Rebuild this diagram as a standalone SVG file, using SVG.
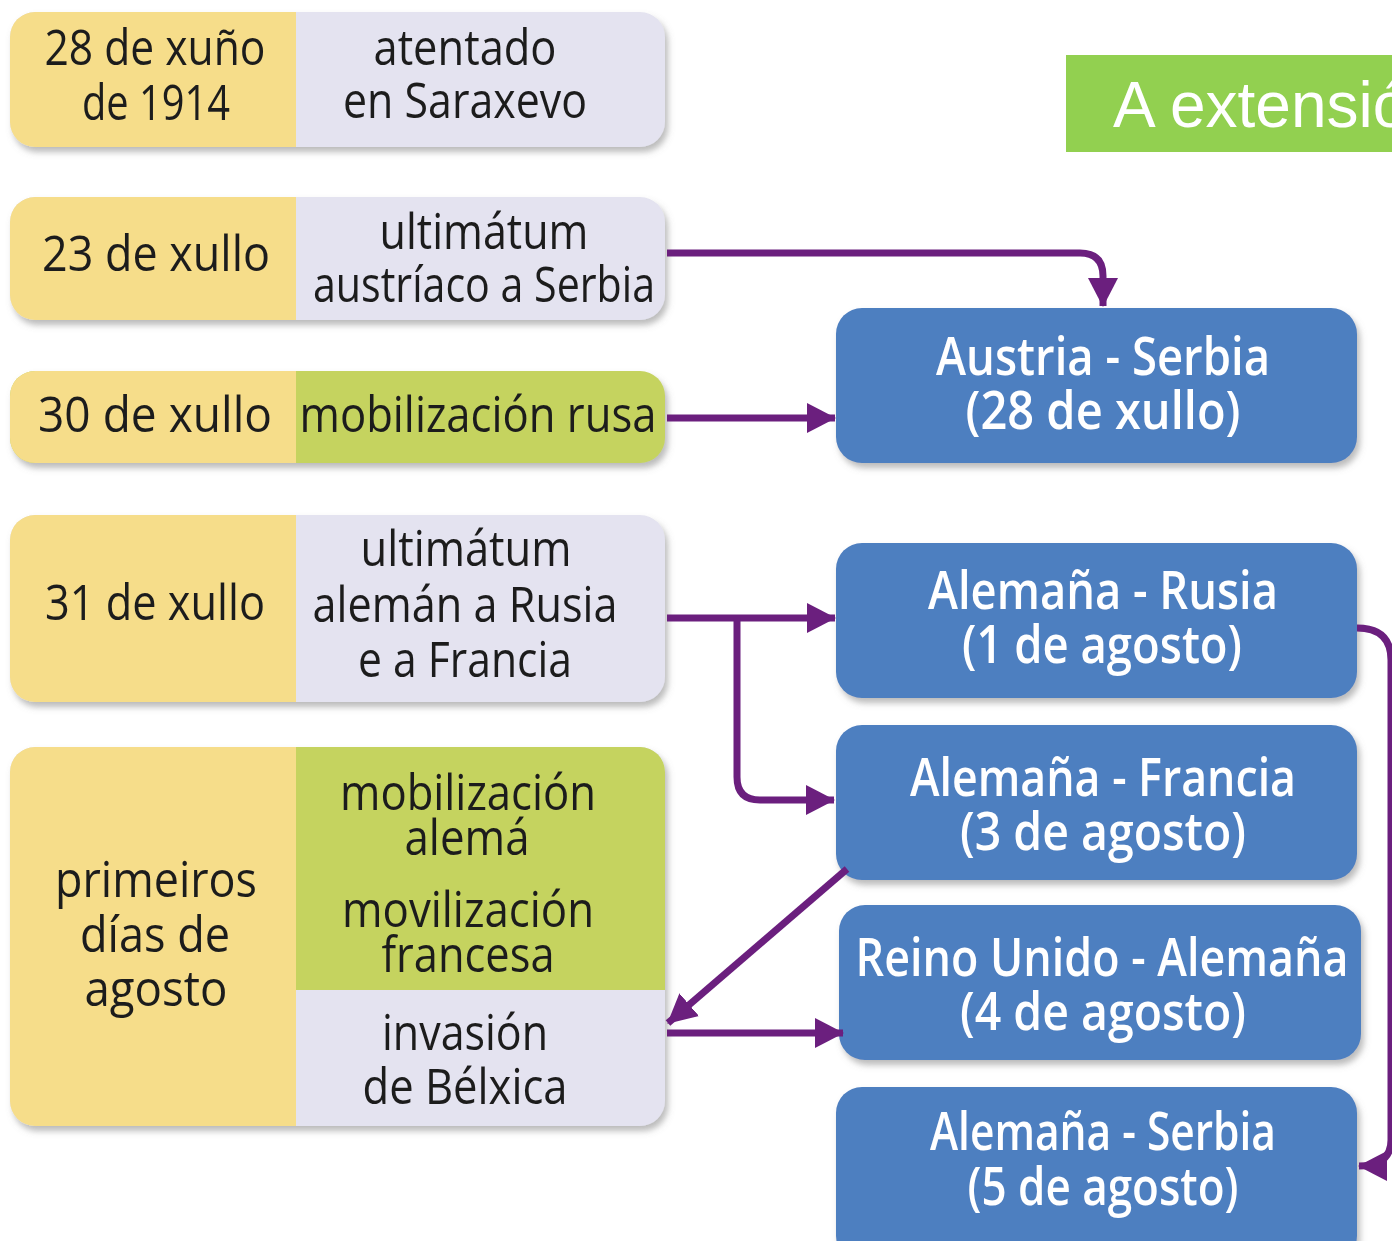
<svg xmlns="http://www.w3.org/2000/svg" width="1392" height="1241" viewBox="0 0 1392 1241">
<style>
.y{fill:#F6DD8A}
.l{fill:#E4E3F0}
.g{fill:#C5D35F}
.b{fill:#4E7FC0}
.t{font-family:"Open Sans","Lato","Liberation Sans",sans-serif;font-size:50px;fill:#1E1E1E;text-anchor:middle}
.w{font-family:"Open Sans","Lato","Liberation Sans",sans-serif;font-size:53px;font-weight:600;fill:#FFFFFF;text-anchor:middle}
.c{fill:none;stroke:#6B1F7E;stroke-width:7}
</style>
<defs>
<filter id="sh" x="-5%" y="-10%" width="112%" height="125%">
<feDropShadow dx="3" dy="5" stdDeviation="3" flood-color="#777" flood-opacity="0.5"/>
</filter>
<marker id="ah" markerUnits="userSpaceOnUse" markerWidth="30" markerHeight="32" refX="28" refY="16" orient="auto">
<path d="M0,1 L29,16 L0,31 Z" fill="#6B1F7E"/>
</marker>
</defs>
<rect x="1066" y="55" width="340" height="97" fill="#92D050"/>
<text x="1113" y="127" font-family="Liberation Sans, Arial, sans-serif" font-size="64" fill="#FFFFFF">A extensió</text>

<g id="n1" filter="url(#sh)">
<rect class="l" x="10" y="12" width="655" height="135" rx="25"/>
<path class="y" d="M35,12 H296 V147 H35 A25,25 0 0 1 10,122 V37 A25,25 0 0 1 35,12 Z"/>
<text class="t" x="155" y="65" textLength="221" lengthAdjust="spacingAndGlyphs">28 de xuño</text>
<text class="t" x="156" y="120" textLength="148" lengthAdjust="spacingAndGlyphs">de 1914</text>
<text class="t" x="465" y="65" textLength="183" lengthAdjust="spacingAndGlyphs">atentado</text>
<text class="t" x="465" y="118" textLength="244" lengthAdjust="spacingAndGlyphs">en Saraxevo</text>
</g>

<g id="n2" filter="url(#sh)">
<rect class="l" x="10" y="197" width="655" height="123" rx="25"/>
<path class="y" d="M35,197 H296 V320 H35 A25,25 0 0 1 10,295 V222 A25,25 0 0 1 35,197 Z"/>
<text class="t" x="156" y="271" textLength="228" lengthAdjust="spacingAndGlyphs">23 de xullo</text>
<text class="t" x="484" y="249" textLength="209" lengthAdjust="spacingAndGlyphs">ultimátum</text>
<text class="t" x="484" y="302" textLength="342" lengthAdjust="spacingAndGlyphs">austríaco a Serbia</text>
</g>

<g id="n3" filter="url(#sh)">
<rect class="g" x="10" y="371" width="655" height="92" rx="25"/>
<path class="y" d="M35,371 H296 V463 H35 A25,25 0 0 1 10,438 V396 A25,25 0 0 1 35,371 Z"/>
<text class="t" x="155" y="432" textLength="234" lengthAdjust="spacingAndGlyphs">30 de xullo</text>
<text class="t" x="478" y="432" textLength="357" lengthAdjust="spacingAndGlyphs">mobilización rusa</text>
</g>

<g id="n4" filter="url(#sh)">
<rect class="l" x="10" y="515" width="655" height="187" rx="25"/>
<path class="y" d="M35,515 H296 V702 H35 A25,25 0 0 1 10,677 V540 A25,25 0 0 1 35,515 Z"/>
<text class="t" x="155" y="620" textLength="220" lengthAdjust="spacingAndGlyphs">31 de xullo</text>
<text class="t" x="466" y="566" textLength="211" lengthAdjust="spacingAndGlyphs">ultimátum</text>
<text class="t" x="465" y="622" textLength="305" lengthAdjust="spacingAndGlyphs">alemán a Rusia</text>
<text class="t" x="465" y="677" textLength="214" lengthAdjust="spacingAndGlyphs">e a Francia</text>
</g>

<g id="n5" filter="url(#sh)">
<rect class="l" x="10" y="747" width="655" height="379" rx="25"/>
<path class="g" d="M296,747 H640 A25,25 0 0 1 665,772 V990 H296 Z"/>
<path class="y" d="M35,747 H296 V1126 H35 A25,25 0 0 1 10,1101 V772 A25,25 0 0 1 35,747 Z"/>
<text class="t" x="156" y="897" textLength="202" lengthAdjust="spacingAndGlyphs">primeiros</text>
<text class="t" x="155" y="952" textLength="150" lengthAdjust="spacingAndGlyphs">días de</text>
<text class="t" x="156" y="1006" textLength="143" lengthAdjust="spacingAndGlyphs">agosto</text>
<text class="t" x="468" y="810" textLength="256" lengthAdjust="spacingAndGlyphs">mobilización</text>
<text class="t" x="467" y="855" textLength="125" lengthAdjust="spacingAndGlyphs">alemá</text>
<text class="t" x="468" y="927" textLength="252" lengthAdjust="spacingAndGlyphs">movilización</text>
<text class="t" x="468" y="972" textLength="173" lengthAdjust="spacingAndGlyphs">francesa</text>
<text class="t" x="465" y="1050" textLength="166" lengthAdjust="spacingAndGlyphs">invasión</text>
<text class="t" x="465" y="1104" textLength="205" lengthAdjust="spacingAndGlyphs">de Bélxica</text>
</g>

<g id="bA" filter="url(#sh)">
<rect class="b" x="836" y="308" width="521" height="155" rx="26"/>
<text class="w" x="1103" y="375" textLength="334" lengthAdjust="spacingAndGlyphs">Austria - Serbia</text>
<text class="w" x="1103" y="429" textLength="275" lengthAdjust="spacingAndGlyphs">(28 de xullo)</text>
</g>
<g id="bB" filter="url(#sh)">
<rect class="b" x="836" y="543" width="521" height="155" rx="26"/>
<text class="w" x="1103" y="609" textLength="350" lengthAdjust="spacingAndGlyphs">Alemaña - Rusia</text>
<text class="w" x="1102" y="663" textLength="280" lengthAdjust="spacingAndGlyphs">(1 de agosto)</text>
</g>
<g id="bC" filter="url(#sh)">
<rect class="b" x="836" y="725" width="521" height="155" rx="26"/>
<text class="w" x="1103" y="796" textLength="386" lengthAdjust="spacingAndGlyphs">Alemaña - Francia</text>
<text class="w" x="1103" y="850" textLength="286" lengthAdjust="spacingAndGlyphs">(3 de agosto)</text>
</g>
<g id="bD" filter="url(#sh)">
<rect class="b" x="839" y="905" width="522" height="155" rx="26"/>
<text class="w" x="1102" y="976" textLength="493" lengthAdjust="spacingAndGlyphs">Reino Unido - Alemaña</text>
<text class="w" x="1103" y="1030" textLength="286" lengthAdjust="spacingAndGlyphs">(4 de agosto)</text>
</g>
<g id="bE" filter="url(#sh)">
<rect class="b" x="836" y="1087" width="521" height="175" rx="26"/>
<text class="w" x="1103" y="1150" textLength="346" lengthAdjust="spacingAndGlyphs">Alemaña - Serbia</text>
<text class="w" x="1103" y="1205" textLength="271" lengthAdjust="spacingAndGlyphs">(5 de agosto)</text>
</g>

<g id="connectors">
<path class="c" d="M667,253 H1080 Q1103,253 1103,276 V306" marker-end="url(#ah)"/>
<path class="c" d="M667,418 H835" marker-end="url(#ah)"/>
<path class="c" d="M667,618 H835" marker-end="url(#ah)"/>
<path class="c" d="M737,618 V777 Q737,800 760,800 H834" marker-end="url(#ah)"/>
<path class="c" d="M847,869 L668,1023" marker-end="url(#ah)"/>
<path class="c" d="M667,1033 H843" marker-end="url(#ah)"/>
<path class="c" d="M1357,628 Q1391,628 1391,660 V1140 Q1391,1166 1359,1166" marker-end="url(#ah)"/>
</g>
</svg>
